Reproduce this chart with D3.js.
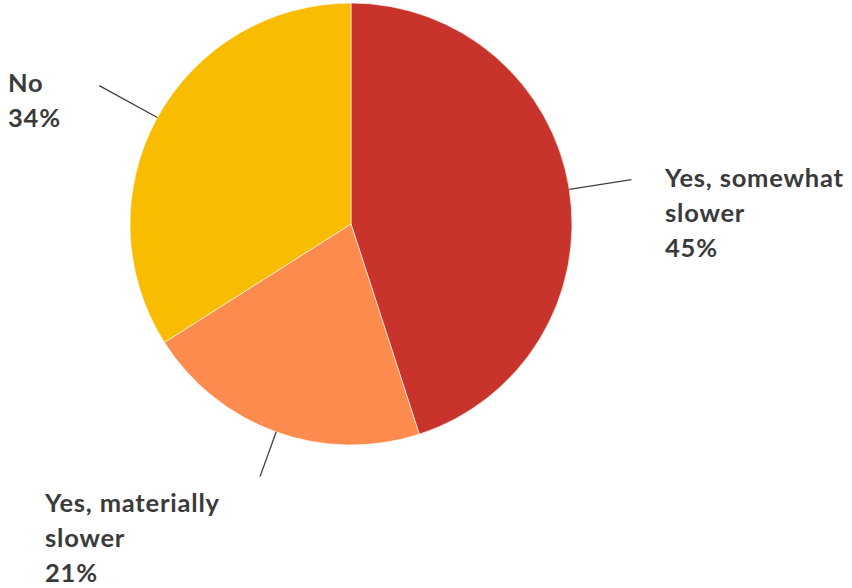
<!DOCTYPE html>
<html><head><meta charset="utf-8">
<script src="https://cdn.jsdelivr.net/npm/d3@7"></script>
<style>html,body{margin:0;padding:0;background:#fff;}</style>
</head><body>
<svg id="c" width="852" height="588"></svg>
<script>
const categories = ["Yes, somewhat slower", "Yes, materially slower", "No"];
const values = [45, 21, 34];
const labelLines = [["Yes, somewhat", "slower", "45%"], ["Yes, materially", "slower", "21%"], ["No", "34%"]];
const colors = ["#c8342b", "#fe8b4e", "#f8bd00"];

const svg = d3.select("#c");
const cx = 351, cy = 224, r = 221;
const g = svg.append("g").attr("transform", `translate(${cx},${cy})`);
const pie = d3.pie().sort(null).value(d => d)(values);
const arc = d3.arc().innerRadius(0).outerRadius(r);
g.selectAll("path").data(pie).join("path")
  .attr("d", arc).attr("fill", (d, i) => colors[i])
  .attr("stroke", "#ffffff").attr("stroke-width", 0.6);

const ext = [1.285, 1.215, 1.3];
pie.forEach((d, i) => {
  const a = (d.startAngle + d.endAngle) / 2;
  const x0 = Math.sin(a) * r, y0 = -Math.cos(a) * r;
  const x1 = Math.sin(a) * r * ext[i], y1 = -Math.cos(a) * r * ext[i];
  g.append("line").attr("x1", x0).attr("y1", y0).attr("x2", x1).attr("y2", y1)
    .attr("stroke", "#404040").attr("stroke-width", 1.3);
});

const anchors = [[665, 187], [45, 512], [8, 92]];
labelLines.forEach((lines, i) => {
  const t = svg.append("text").attr("x", anchors[i][0]).attr("y", anchors[i][1])
    .attr("font-family", "Lato, 'Open Sans', sans-serif").attr("font-weight", "bold")
    .attr("font-size", 25.5).attr("letter-spacing", 0.8).attr("fill", "#3a3a3a");
  lines.forEach((l, j) => t.append("tspan").attr("x", anchors[i][0]).attr("dy", j === 0 ? 0 : 34.8).text(l));
});
</script>
</body></html>
